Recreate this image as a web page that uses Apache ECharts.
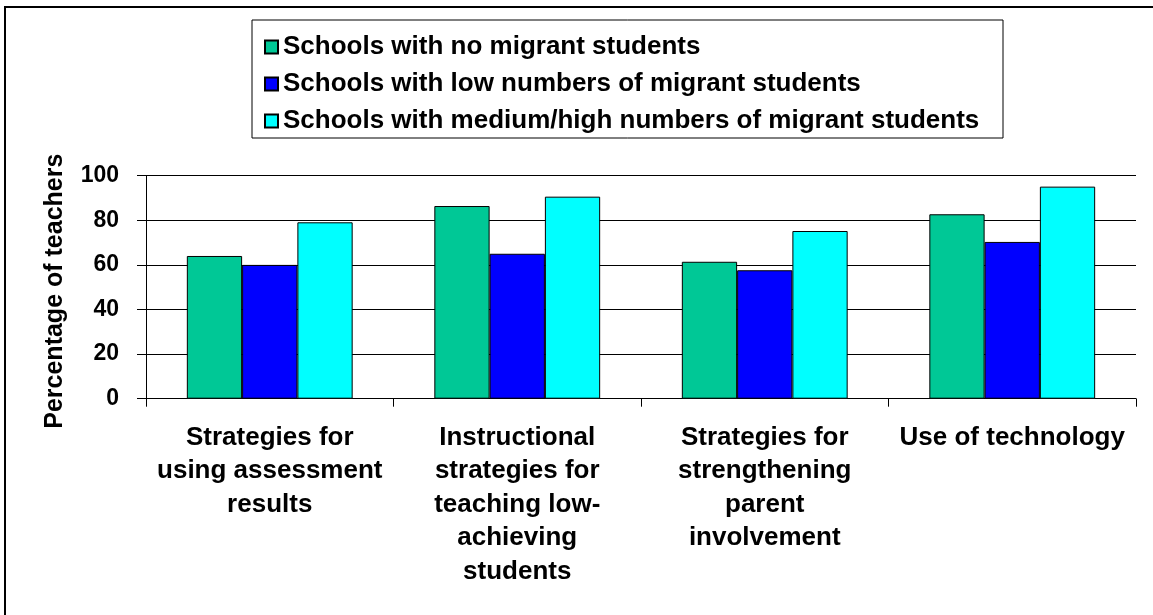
<!DOCTYPE html>
<html>
<head>
<meta charset="utf-8">
<script src="https://cdn.jsdelivr.net/npm/echarts@6/dist/echarts.min.js"></script>
<style>
  html, body { margin: 0; padding: 0; background: #ffffff; }
  #chart { width: 1153px; height: 615px; }
</style>
</head>
<body>
<div id="chart"></div>
<script>
var categories = [
  "Strategies for\nusing assessment\nresults",
  "Instructional\nstrategies for\nteaching low-\nachieving\nstudents",
  "Strategies for\nstrengthening\nparent\ninvolvement",
  "Use of technology"
];
var seriesNames = [
  "Schools with no migrant students",
  "Schools with low numbers of migrant students",
  "Schools with medium/high numbers of migrant students"
];
var noMigrant = [64, 86.4, 61.4, 82.7];
var lowMigrant = [60, 65, 57.6, 70.3];
var mediumHighMigrant = [79.1, 90.6, 75.2, 95.1];
var yTicks = [0, 20, 40, 60, 80, 100];

var FONT = "'Liberation Sans', Arial, Helvetica, sans-serif";
var colors = ["#00C896", "#0000FF", "#00FFFF"];
var seriesData = [noMigrant, lowMigrant, mediumHighMigrant];

var chart = echarts.init(document.getElementById('chart'), null, { renderer: 'canvas' });

var series = seriesNames.map(function (name, i) {
  return {
    name: name,
    type: 'bar',
    data: seriesData[i],
    barGap: '0%',
    barCategoryGap: '33%',
    itemStyle: { color: colors[i], borderColor: '#000000', borderWidth: 1 },
    emphasis: { disabled: true },
    animation: false
  };
});

chart.setOption({
  backgroundColor: '#ffffff',
  animation: false,
  graphic: [
    {
      type: 'rect',
      shape: { x: 5, y: 7, width: 1200, height: 700 },
      style: { fill: 'none', stroke: '#000000', lineWidth: 2 },
      silent: true
    },
    {
      type: 'rect',
      shape: { x: 252, y: 20, width: 751, height: 118 },
      style: { fill: 'none', stroke: '#000000', lineWidth: 1 },
      silent: true,
      z: 10
    }
  ],
  legend: {
    orient: 'vertical',
    left: 254,
    top: 20,
    padding: [13, 10, 2, 10],
    itemWidth: 13,
    itemHeight: 13,
    itemGap: 9,
    icon: 'rect',
    selectedMode: false,
    data: seriesNames,
    textStyle: { fontFamily: FONT, fontWeight: 'bold', fontSize: 26, color: '#000000', lineHeight: 28 }
  },
  grid: {
    left: 146,
    right: 17,
    top: 175.7,
    bottom: 216.3,
    containLabel: false
  },
  xAxis: {
    type: 'category',
    data: categories,
    axisLine: { lineStyle: { color: '#000000', width: 1 } },
    axisTick: { show: true, length: 8, alignWithLabel: false, lineStyle: { color: '#000000' } },
    axisLabel: {
      interval: 0,
      margin: 22,
      color: '#000000',
      fontFamily: FONT,
      fontWeight: 'bold',
      fontSize: 26,
      lineHeight: 33.5,
      align: 'center'
    },
    splitLine: { show: false }
  },
  yAxis: {
    type: 'value',
    min: 0,
    max: 100,
    interval: 20,
    name: 'Percentage of teachers',
    nameLocation: 'middle',
    nameGap: 78,
    nameRotate: 90,
    nameTextStyle: { fontFamily: FONT, fontWeight: 'bold', fontSize: 25, color: '#000000', padding: [0, 8, 0, 0] },
    axisLine: { show: true, lineStyle: { color: '#000000', width: 1 } },
    axisTick: { show: true, length: 9, lineStyle: { color: '#000000' } },
    axisLabel: {
      margin: 27,
      color: '#000000',
      fontFamily: FONT,
      fontWeight: 'bold',
      fontSize: 23,
      formatter: function (v) { return yTicks.indexOf(v) >= 0 ? String(v) : ''; }
    },
    splitLine: { show: true, lineStyle: { color: '#000000', width: 1 } }
  },
  series: series
});
</script>
</body>
</html>
